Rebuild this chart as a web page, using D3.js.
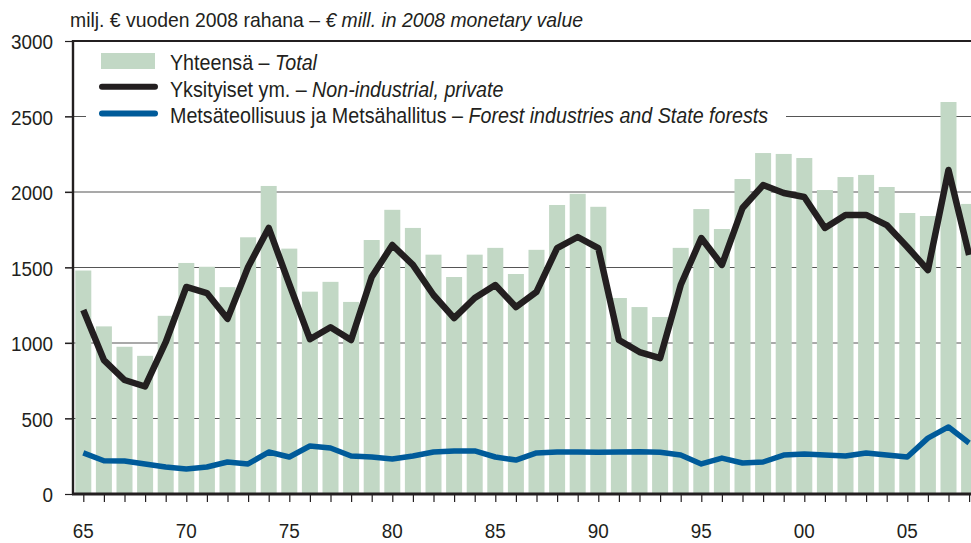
<!DOCTYPE html>
<html>
<head>
<meta charset="utf-8">
<script src="https://cdn.jsdelivr.net/npm/d3@7"></script>
<style>
 body {margin:0;background:#fff;}
 svg text {font-family:"Liberation Sans",Arial,sans-serif;fill:#231f20;}
</style>
</head>
<body>
<script>
// data
var years=d3.range(1965,2009);
var total=[1480,1110,975,915,1180,1530,1505,1370,1700,2040,1625,1340,1405,1272,1682,1882,1762,1585,1437,1585,1630,1457,1617,1914,1988,1902,1298,1238,1172,1630,1887,1755,2086,2258,2252,2225,2013,2099,2113,2033,1861,1841,2596,1921];
var priv=[1219,887,755,712,1005,1371,1331,1160,1503,1762,1390,1025,1104,1020,1437,1649,1517,1318,1165,1298,1384,1238,1338,1629,1702,1629,1020,940,900,1384,1695,1517,1894,2046,1993,1967,1762,1848,1848,1781,1636,1483,2146,1583];
var forest=[272,220,219,199,179,166,179,212,199,278,245,318,305,252,245,232,252,278,285,285,245,225,272,278,278,276,278,280,276,258,199,238,205,212,258,265,258,252,272,258,245,370,444,338];
var yticks=[0,500,1000,1500,2000,2500,3000];
var xlabels=[[1965,'65'],[1970,'70'],[1975,'75'],[1980,'80'],[1985,'85'],[1990,'90'],[1995,'95'],[2000,'00'],[2005,'05']];
var title='milj. \u20ac vuoden 2008 rahana \u2013 ';
var titleEn='\u20ac mill. in 2008 monetary value';
var legend=[['Yhteens\u00e4 \u2013  ','Total','bar'],
 ['Yksityiset ym. \u2013 ','Non-industrial, private','#231f20'],
 ['Mets\u00e4teollisuus ja Mets\u00e4hallitus \u2013 ','Forest industries and State forests','#005b9a']];
// layout
var wid=971, hgh=543;
var pleft=73, ptop=41, pbot=494;
var sx=0.9; // horizontal squeeze, the source font is condensed
var x=d3.scaleLinear().domain([1964.5,2008.5]).range([pleft,979.4]);
var y=d3.scaleLinear().domain([0,3000]).range([pbot,ptop]);
var barw=16;
var svg=d3.select('body').append('svg').attr('width',wid).attr('height',hgh);
// grid lines (also the left ticks)
svg.selectAll('line.grid').data(yticks.filter(function(d){return d>0&&d<3000;})).enter()
 .append('line').attr('class','grid')
 .attr('x1',65).attr('x2',wid).attr('y1',function(d){return y(d);}).attr('y2',function(d){return y(d);})
 .attr('stroke','#555').attr('stroke-width',1.2);
// legend background hides the 2500 line
svg.append('rect').attr('x',86).attr('y',46).attr('width',700).attr('height',84).attr('fill','#fff');
// bars
svg.selectAll('rect.bar').data(years).enter().append('rect').attr('class','bar')
 .attr('x',function(d){return x(d)-barw/2;}).attr('width',barw)
 .attr('y',function(d,i){return y(total[i]);})
 .attr('height',function(d,i){return pbot-y(total[i]);})
 .attr('fill','#c2d8c5');
// lines
var line=function(vals){return d3.line().x(function(d){return x(d);}).y(function(d,i){return y(vals[i]);})(years);};
svg.append('path').attr('d',line(forest)).attr('fill','none').attr('stroke','#005b9a')
 .attr('stroke-width',5.5).attr('stroke-linejoin','round');
svg.append('path').attr('d',line(priv)).attr('fill','none').attr('stroke','#231f20')
 .attr('stroke-width',6.5).attr('stroke-linejoin','round');
// axes
var yax=svg.append('g').attr('transform','translate('+pleft+',0)')
 .call(d3.axisLeft(y).tickValues(yticks).tickFormat(d3.format('d')).tickSize(8).tickPadding(12));
yax.select('.domain').remove();
yax.selectAll('line').attr('stroke','#231f20').attr('stroke-width',1.2);
yax.selectAll('text').attr('x',-20/sx).attr('dy','0.36em').attr('transform','scale('+sx+',1)')
 .style('font-size','21px').attr('fill','#231f20');
var xax=svg.append('g').attr('transform','translate(0,'+pbot+')')
 .call(d3.axisBottom(x).tickValues(years).tickSize(8).tickFormat(''));
xax.select('.domain').remove();
xax.selectAll('line').attr('stroke','#231f20').attr('stroke-width',1.2);
svg.selectAll('text.xlab').data(xlabels).enter().append('text').attr('class','xlab')
 .attr('transform',function(d){return 'translate('+x(d[0])+',538) scale('+sx+',1)';})
 .attr('text-anchor','middle').style('font-size','21px').text(function(d){return d[1];});
// frame
svg.append('line').attr('x1',pleft).attr('x2',wid).attr('y1',ptop).attr('y2',ptop)
 .attr('stroke','#231f20').attr('stroke-width',2);
svg.append('line').attr('x1',pleft).attr('x2',pleft).attr('y1',ptop-1).attr('y2',pbot)
 .attr('stroke','#231f20').attr('stroke-width',2.4);
svg.append('line').attr('x1',pleft-1).attr('x2',wid).attr('y1',pbot).attr('y2',pbot)
 .attr('stroke','#231f20').attr('stroke-width',3);
// title
var t=svg.append('text').attr('transform','translate(70,27) scale(0.97,1)').style('font-size','20px');
t.append('tspan').text(title);
t.append('tspan').style('font-style','italic').text(titleEn);
// legend
var lg=svg.selectAll('g.leg').data(legend).enter().append('g').attr('class','leg')
 .attr('transform',function(d,i){return 'translate(0,'+(i*26.7)+')';});
lg.each(function(d){
 var g=d3.select(this);
 if(d[2]=='bar') g.append('rect').attr('x',101).attr('y',53).attr('width',54).attr('height',16).attr('fill','#c2d8c5');
 else g.append('line').attr('x1',102).attr('x2',155).attr('y1',60).attr('y2',60)
  .attr('stroke',d[2]).attr('stroke-width',6).attr('stroke-linecap','round');
 var tx=g.append('text').attr('transform','translate(170,70) scale(0.875,1)').style('font-size','22.5px');
 tx.append('tspan').text(d[0]);
 tx.append('tspan').style('font-style','italic').text(d[1]);
});
</script>
</body>
</html>
